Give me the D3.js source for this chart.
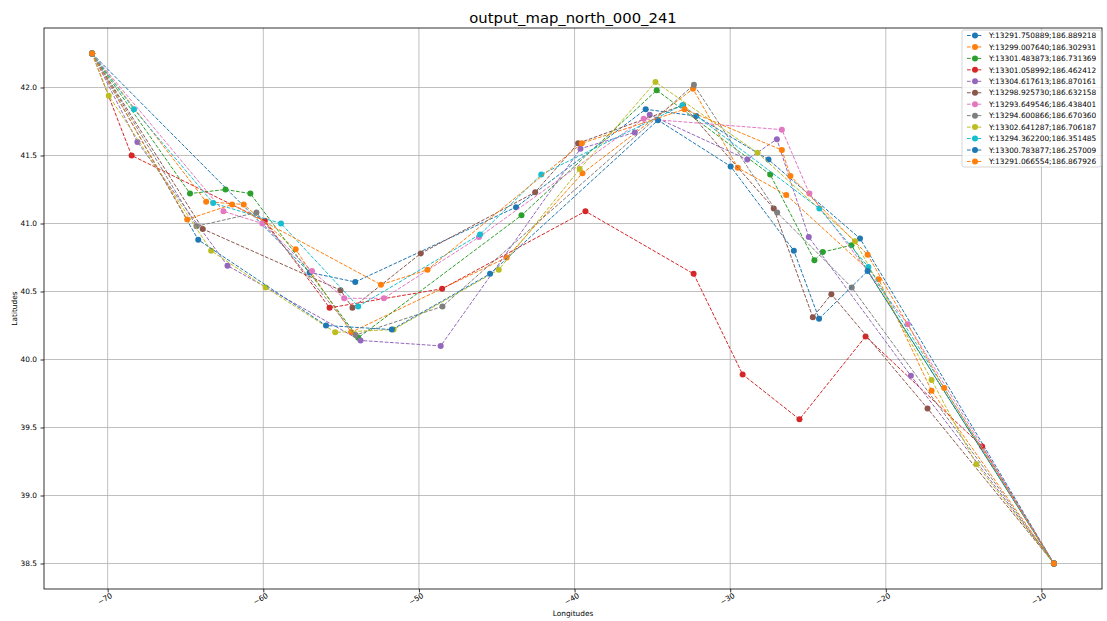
<!DOCTYPE html>
<html><head><meta charset="utf-8">
<script src="https://cdn.jsdelivr.net/npm/d3@7"></script>
<style>
html,body{margin:0;padding:0;background:#fff;}
text{font-family:"DejaVu Sans",sans-serif;fill:#000;}
</style></head>
<body>
<svg id="chart" width="1107" height="621"></svg>
<script>
const title = "output_map_north_000_241";
const xLabel = "Longitudes";
const yLabel = "Latitudes";
const xTicks = [-70, -60, -50, -40, -30, -20, -10];
const yTicks = [38.5, 39.0, 39.5, 40.0, 40.5, 41.0, 41.5, 42.0];

const seriesLabels = [
  "Y:13291.750889;186.889218",
  "Y:13299.007640;186.302931",
  "Y:13301.483873;186.731369",
  "Y:13301.058992;186.462412",
  "Y:13304.617613;186.870161",
  "Y:13298.925730;186.632158",
  "Y:13293.649546;186.438401",
  "Y:13294.600866;186.670360",
  "Y:13302.641287;186.706187",
  "Y:13294.362200;186.351485",
  "Y:13300.783877;186.257009",
  "Y:13291.066554;186.867926"
];
const seriesColors = ["#1f77b4","#ff7f0e","#2ca02c","#d62728","#9467bd","#8c564b","#e377c2","#7f7f7f","#bcbd22","#17becf","#1f77b4","#ff7f0e"];

const lon1 = [-71, -57.02, -54.09, -43.76, -35.43, -32.18, -27.54, -21.66, -9.2];
const lat1 = [42.25, 40.64, 40.57, 41.12, 41.84, 41.79, 41.47, 40.89, 38.5];
const lon2 = [-71, -63.67, -61.26, -57.92, -54.35, -44.36, -39.49, -32.39, -29.51, -26.4, -20.46, -17.06, -9.2];
const lat2 = [42.25, 41.16, 41.14, 40.81, 40.20, 40.75, 41.37, 41.99, 41.41, 41.21, 40.59, 39.77, 38.5];
const lon3 = [-71, -64.71, -62.43, -60.83, -53.9, -43.41, -34.72, -27.43, -24.59, -24.05, -22.21, -9.2];
const lat3 = [42.25, 41.22, 41.25, 41.22, 40.16, 41.06, 41.98, 41.36, 40.73, 40.79, 40.84, 38.5];
const lon4 = [-71, -68.46, -59.9, -55.74, -48.51, -39.3, -32.35, -29.2, -25.55, -21.3, -13.81, -9.2];
const lat4 = [42.25, 41.5, 41.02, 40.38, 40.52, 41.09, 40.63, 39.89, 39.56, 40.17, 39.36, 38.5];
const lon5 = [-71, -68.09, -62.3, -53.75, -48.6, -39.62, -36.13, -35.17, -28.9, -27.0, -24.95, -18.39, -9.2];
const lat5 = [42.25, 41.6, 40.69, 40.14, 40.1, 41.55, 41.67, 41.8, 41.47, 41.62, 40.9, 39.88, 38.5];
const lon6 = [-71, -63.89, -55.04, -54.27, -49.88, -42.53, -39.77, -33.03, -27.2, -24.69, -23.5, -17.32, -9.2];
const lat6 = [42.25, 40.96, 40.51, 40.38, 40.78, 41.23, 41.59, 41.87, 41.11, 40.31, 40.48, 39.64, 38.5];
const lon7 = [-71, -62.56, -60.06, -56.87, -54.8, -52.25, -46.14, -35.56, -26.68, -24.91, -18.6, -9.2];
const lat7 = [42.25, 41.09, 41.0, 40.65, 40.45, 40.45, 40.9, 41.77, 41.69, 41.22, 40.26, 38.5];
const lon8 = [-71, -64.29, -60.44, -54.07, -48.49, -32.33, -26.98, -22.19, -9.2];
const lat8 = [42.25, 40.98, 41.08, 40.18, 40.39, 42.02, 41.08, 40.53, 38.5];
const lon9 = [-71, -69.93, -63.35, -59.85, -55.38, -51.63, -44.87, -39.67, -34.8, -28.24, -21.98, -17.06, -14.18, -9.2];
const lat9 = [42.25, 41.94, 40.80, 40.53, 40.20, 40.22, 40.66, 41.40, 42.04, 41.52, 40.87, 39.85, 39.23, 38.5];
const lon10 = [-71, -68.31, -63.22, -58.86, -53.9, -46.07, -42.14, -33.07, -24.27, -21.12, -9.2];
const lat10 = [42.25, 41.84, 41.15, 41.0, 40.39, 40.92, 41.36, 41.87, 41.11, 40.68, 38.5];
const lon11 = [-71, -64.18, -55.97, -51.74, -45.43, -34.64, -29.97, -25.91, -24.29, -21.17, -9.2];
const lat11 = [42.25, 40.88, 40.25, 40.22, 40.63, 41.76, 41.42, 40.8, 40.3, 40.65, 38.5];
const lon12 = [-71, -64.89, -62.0, -52.44, -49.45, -39.53, -32.93, -26.68, -26.13, -21.17, -16.25, -9.2];
const lat12 = [42.25, 41.03, 41.14, 40.55, 40.66, 41.59, 41.84, 41.54, 41.35, 40.77, 39.79, 38.5];

const lons = [lon1,lon2,lon3,lon4,lon5,lon6,lon7,lon8,lon9,lon10,lon11,lon12];
const lats = [lat1,lat2,lat3,lat4,lat5,lat6,lat7,lat8,lat9,lat10,lat11,lat12];

const series = seriesLabels.map((label, i) => ({
  label, color: seriesColors[i],
  points: lons[i].map((x, j) => ({x, y: lats[i][j]}))
}));

const svg = d3.select("#chart");
const L = 44, R = 1102, T = 28, B = 589;

const allX = lons.flat(), allY = lats.flat();
const [x0, x1] = d3.extent(allX), [y0, y1] = d3.extent(allY);
const mx = (x1 - x0) * 0.05, my = (y1 - y0) * 0.05;
const x = d3.scaleLinear().domain([x0 - mx, x1 + mx]).range([L, R]);
const y = d3.scaleLinear().domain([y0 - my, y1 + my]).range([B, T]);

// grid
const grid = svg.append("g");
grid.selectAll(".gx").data(xTicks).enter().append("line")
  .attr("x1", d => x(d)).attr("x2", d => x(d)).attr("y1", T).attr("y2", B)
  .attr("stroke", "#b0b0b0").attr("stroke-width", 0.8);
grid.selectAll(".gy").data(yTicks).enter().append("line")
  .attr("x1", L).attr("x2", R).attr("y1", d => y(d)).attr("y2", d => y(d))
  .attr("stroke", "#b0b0b0").attr("stroke-width", 0.8);

// axes
const fmtX = d => (d < 0 ? "\u2212" + Math.abs(d) : String(d));
const xAxis = svg.append("g").attr("transform", `translate(0,${B})`)
  .call(d3.axisBottom(x).tickValues(xTicks).tickFormat(fmtX).tickSizeOuter(0).tickSize(3.5).tickPadding(3));
xAxis.select(".domain").remove();
xAxis.selectAll("line").attr("stroke", "#000").attr("stroke-width", 0.8);
xAxis.selectAll("text").attr("font-size", 7.4).attr("font-family", "DejaVu Sans")
  .attr("text-anchor", "middle").attr("dy", null)
  .attr("transform", "translate(-2,12) rotate(-30)").attr("y", 0).attr("x", 0);

const yAxis = svg.append("g").attr("transform", `translate(${L},0)`)
  .call(d3.axisLeft(y).tickValues(yTicks).tickFormat(d3.format(".1f")).tickSizeOuter(0).tickSize(3.5).tickPadding(3.5));
yAxis.select(".domain").remove();
yAxis.selectAll("line").attr("stroke", "#000").attr("stroke-width", 0.8);
yAxis.selectAll("text").attr("font-size", 7.4).attr("font-family", "DejaVu Sans");

// lines
const line = d3.line().x(d => x(d.x)).y(d => y(d.y));
const sg = svg.append("g");
series.forEach(s => {
  const g = sg.append("g");
  g.append("path").attr("d", line(s.points)).attr("fill", "none")
    .attr("stroke", s.color).attr("stroke-width", 1).attr("stroke-dasharray", "3.7,1.6");
  g.selectAll("circle").data(s.points).enter().append("circle")
    .attr("cx", d => x(d.x)).attr("cy", d => y(d.y)).attr("r", 3).attr("fill", s.color);
});

// frame
svg.append("rect").attr("x", L).attr("y", T).attr("width", R - L).attr("height", B - T)
  .attr("fill", "none").attr("stroke", "#000").attr("stroke-width", 0.8);

// title and labels
svg.append("text").attr("x", (L + R) / 2).attr("y", 23).attr("text-anchor", "middle")
  .attr("font-size", 14.8).text(title);
svg.append("text").attr("x", (L + R) / 2).attr("y", 616).attr("text-anchor", "middle")
  .attr("font-size", 7.4).text(xLabel);
svg.append("text").attr("transform", `translate(17,${(T + B) / 2}) rotate(-90)`)
  .attr("text-anchor", "middle").attr("font-size", 7.4).text(yLabel);

// legend
const lg = svg.append("g").attr("transform", "translate(962,30)");
lg.append("rect").attr("x", 0).attr("y", 0).attr("width", 139).attr("height", 137)
  .attr("rx", 2).attr("fill", "#fff").attr("fill-opacity", 0.8)
  .attr("stroke", "#cccccc").attr("stroke-width", 0.8);
series.forEach((s, i) => {
  const yy = 5.5 + i * 11.45;
  lg.append("line").attr("x1", 5).attr("x2", 20).attr("y1", yy).attr("y2", yy)
    .attr("stroke", s.color).attr("stroke-width", 1).attr("stroke-dasharray", "3.7,1.6");
  lg.append("circle").attr("cx", 13).attr("cy", yy).attr("r", 3).attr("fill", s.color);
  lg.append("text").attr("x", 27).attr("y", yy + 2.7).attr("font-size", 7.4).text(s.label);
});
</script>
</body></html>
